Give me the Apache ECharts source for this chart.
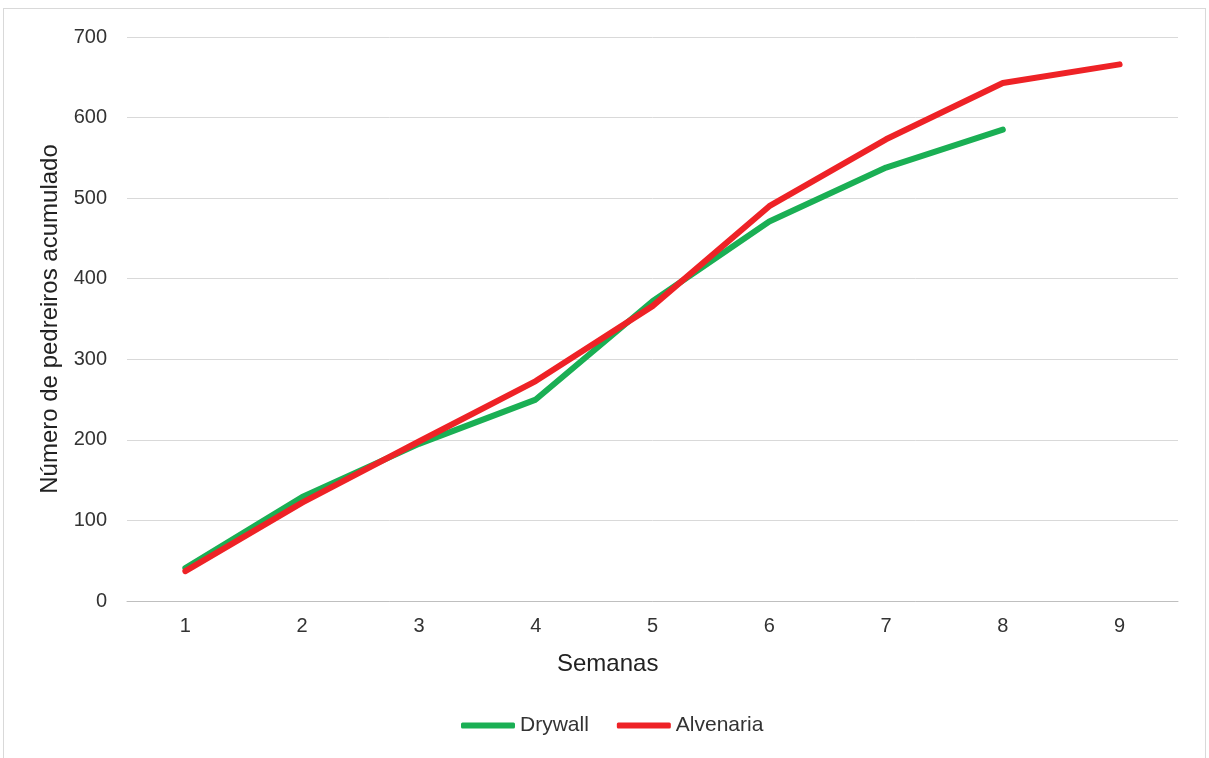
<!DOCTYPE html>
<html>
<head>
<meta charset="utf-8">
<script src="https://cdn.jsdelivr.net/npm/echarts@6/dist/echarts.min.js"></script>
<style>
  html, body { margin: 0; padding: 0; background: #fff; }
  #frame { position: absolute; left: 3px; top: 8px; width: 1203px; height: 760px; border: 1px solid #d9d9d9; box-sizing: border-box; }
  #chart { position: absolute; left: 0; top: 0; width: 1209px; height: 758px; }
</style>
</head>
<body>
<div id="frame"></div>
<div id="chart"></div>
<script>
// Semanas (eixo x) e número acumulado de pedreiros por sistema
const semanas = ['1', '2', '3', '4', '5', '6', '7', '8', '9'];
const drywall = [41, 129, 195, 250, 372, 471, 538, 585, null];
const alvenaria = [37, 122, 198, 273, 366, 490, 573, 643, 666];
const yTicks = { min: 0, max: 700, interval: 100 };

const chart = echarts.init(document.getElementById('chart'));
const font = 'Liberation Sans, Arial, sans-serif';

chart.setOption({
  animation: false,
  grid: { left: 127, right: 31, top: 37, bottom: 157 },
  legend: {
    bottom: 17,
    left: 456,
    itemWidth: 54,
    itemHeight: 6,
    itemGap: 28,
    icon: 'roundRect',
    textStyle: { fontFamily: font, fontSize: 21, color: '#333' },
    data: ['Drywall', 'Alvenaria']
  },
  xAxis: {
    type: 'category',
    data: semanas,
    boundaryGap: true,
    axisLine: { lineStyle: { color: '#bfbfbf', width: 1 } },
    axisTick: { show: false },
    axisLabel: { fontFamily: font, fontSize: 20, color: '#333', margin: 15 }
  },
  yAxis: {
    type: 'value',
    min: yTicks.min,
    max: yTicks.max,
    interval: yTicks.interval,
    name: 'Número de pedreiros acumulado',
    nameLocation: 'middle',
    nameGap: 64,
    nameTextStyle: { fontFamily: font, fontSize: 24, color: '#222' },
    axisLine: { show: false },
    axisTick: { show: false },
    axisLabel: { fontFamily: font, fontSize: 20, color: '#333', margin: 20 },
    splitLine: { lineStyle: { color: '#d9d9d9', width: 1 } }
  },
  graphic: [{
    type: 'text',
    left: 557,
    top: 652,
    style: { text: 'Semanas', font: '24px ' + font, fill: '#222' }
  }],
  series: [
    {
      name: 'Drywall',
      type: 'line',
      data: drywall,
      symbol: 'none',
      lineStyle: { color: '#1AAF54', width: 6, cap: 'round', join: 'round' },
      itemStyle: { color: '#1AAF54' }
    },
    {
      name: 'Alvenaria',
      type: 'line',
      data: alvenaria,
      symbol: 'none',
      lineStyle: { color: '#EE2226', width: 6, cap: 'round', join: 'round' },
      itemStyle: { color: '#EE2226' }
    }
  ]
});
</script>
</body>
</html>
